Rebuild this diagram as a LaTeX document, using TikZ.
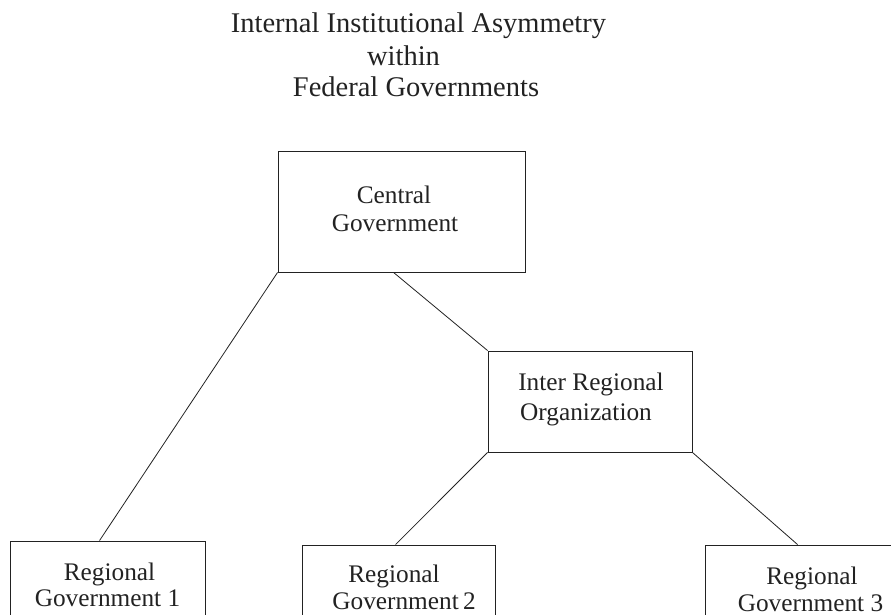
\documentclass[tikz,border=0pt]{standalone}
\usepackage{fontspec}
\setmainfont{Liberation Serif}
\definecolor{ink}{HTML}{222222}
\begin{document}
\begin{tikzpicture}[x=1pt,y=-1pt,
  box/.style={draw=ink, line width=0.9pt, inner sep=0pt},
  link/.style={draw=ink, line width=0.8pt},
  ttl/.style={anchor=base, inner sep=0pt, text=ink, font=\fontsize{28.5}{31}\selectfont},
  txt/.style={anchor=base, inner sep=0pt, text=ink, font=\fontsize{25.3}{28}\selectfont}]
\useasboundingbox (0,0) rectangle (891,615);
\clip (0,0) rectangle (891,615);
\node[ttl] (t1) at (418.5,32.3) {Internal Institutional Asymmetry};
\node[ttl] (t2) at (403.5,65.7) {within};
\node[ttl] (t3) at (416,96.7) {Federal Governments};

\node[box, minimum width=247pt, minimum height=121pt] (cg) at (401.5,211.5) {};
\node[box, minimum width=204pt, minimum height=101pt] (iro) at (590,401.5) {};
\node[box, minimum width=195pt, minimum height=139pt] (rg1) at (107.5,610.5) {};
\node[box, minimum width=193pt, minimum height=135pt] (rg2) at (398.5,612.5) {};
\node[box, minimum width=210pt, minimum height=135pt] (rg3) at (810,612.5) {};

\node[txt] (cg1) at (394,203) {Central};
\node[txt] (cg2) at (395,231.7) {Government};
\node[txt] (iro1) at (591,390) {Inter Regional};
\node[txt] (iro2) at (586,420) {Organization};
\node[txt] (r11) at (109.5,580) {Regional};
\node[txt] (r12) at (107.5,606.5) {Government 1};
\node[txt] (r21) at (394,582) {Regional};
\node[txt] (r22) at (404,609) {Government\,2};
\node[txt] (r31) at (812,584) {Regional};
\node[txt] (r32) at (810.5,611) {Government 3};

\draw[link] (cg.south west) -- ([xshift=90pt]rg1.north west);
\draw[link] ([xshift=116pt]cg.south west) -- (iro.north west);
\draw[link] (iro.south west) -- ([xshift=94pt]rg2.north west);
\draw[link] (iro.south east) -- ([xshift=93pt]rg3.north west);
\end{tikzpicture}
\end{document}
